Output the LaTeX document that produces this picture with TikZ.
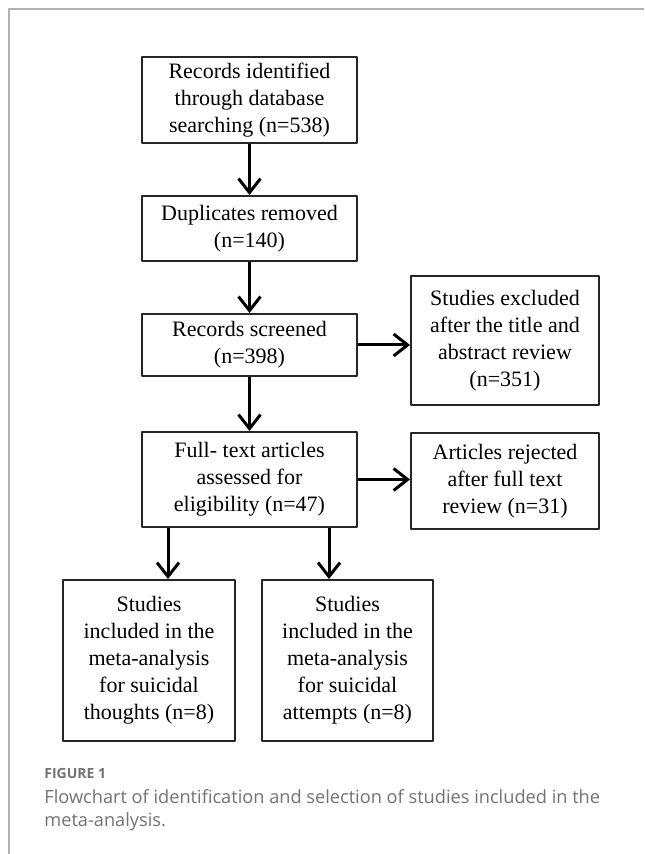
\documentclass[tikz,border=0pt]{standalone}
\usepackage{fontspec}
\setmainfont{Liberation Serif}
\newfontfamily\capfont{Open Sans}
\usetikzlibrary{arrows.meta}

\begin{document}
\begin{tikzpicture}[x=0.5pt, y=-0.5pt, line join=round, >={Straight Barb[length=7pt, width=11pt]},
	box/.style={draw=black!85, line width=1pt, align=center, inner sep=0pt, font=\fontsize{11}{13.5}\selectfont},
	arr/.style={->, line width=1.5pt},
	captext/.style={anchor=base west, inner sep=0pt, text=black!55}]
	
	% Khung trang
	\useasboundingbox (0,0) rectangle (644,854);
	\fill[white] (0,0) rectangle (644,854);
	\draw[black!30, line width=1pt] (644,9) -- (9,9) -- (9,854);
	
	% Cột chính
	\node[box, minimum width=107.5pt, minimum height=43pt] (RI) at (249.5,100) {Records identified\\through database\\searching (n=538)};
	\node[box, minimum width=107.5pt, minimum height=32.5pt] (DR) at (249.5,228.5) {Duplicates removed\\(n=140)};
	\node[box, minimum width=107.5pt, minimum height=31pt] (RS) at (249.5,345) {Records screened\\(n=398)};
	\node[box, minimum width=107.5pt, minimum height=47.5pt] (FT) at (249.5,479.5) {Full- text articles\\assessed for\\eligibility (n=47)};
	
	% Các hộp loại trừ
	\node[box, minimum width=94pt, minimum height=64.5pt] (SE) at (505,340.5) {Studies excluded\\after the title and\\abstract review\\(n=351)};
	\node[box, minimum width=94pt, minimum height=48pt] (AR) at (505,481) {Articles rejected\\after full text\\review (n=31)};
	
	% Các hộp kết quả
	\node[box, minimum width=86pt, minimum height=80.5pt] (ST) at (149,660.5) {Studies\\included in the\\meta-analysis\\for suicidal\\thoughts (n=8)};
	\node[box, minimum width=85.5pt, minimum height=80.5pt] (SA) at (347.5,660.5) {Studies\\included in the\\meta-analysis\\for suicidal\\attempts (n=8)};
	
	% Mũi tên
	\draw[arr] (RI) -- (DR);
	\draw[arr] (DR) -- (RS);
	\draw[arr] (RS) -- (FT);
	\draw[arr] (RS.east) -- (RS.east -| SE.west);
	\draw[arr] (FT.east) -- (FT.east -| AR.west);
	\draw[arr] ([xshift=-40.75pt]FT.south) -- ([xshift=-40.75pt]FT.south |- ST.north);
	\draw[arr] ([xshift=39.75pt]FT.south) -- ([xshift=39.75pt]FT.south |- SA.north);
	
	% Chú thích hình
	\node[captext, font=\capfont\bfseries\fontsize{7}{8}\selectfont] (FIG) at (44,778) {FIGURE 1};
	\node[captext, font=\capfont\fontsize{9.1}{11.5}\selectfont] (CAP) at (44,803) {Flowchart of identification and selection of studies included in the};
	\node[captext, font=\capfont\fontsize{9.1}{11.5}\selectfont] (CAP2) at (44,826) {meta-analysis.};
	
\end{tikzpicture}
\end{document}
